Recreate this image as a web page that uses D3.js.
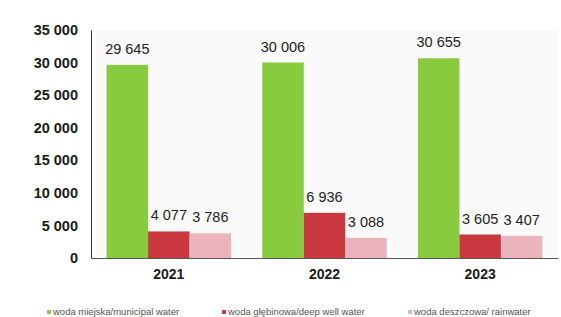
<!DOCTYPE html>
<html><head><meta charset="utf-8">
<script src="https://cdn.jsdelivr.net/npm/d3@7"></script>
<style>body{margin:0;background:#fff}svg{display:block}</style>
</head><body>
<svg id="c" width="561" height="317"></svg>
<script>
const years = ["2021", "2022", "2023"];
const seriesNames = ["woda miejska/municipal water", "woda głębinowa/deep well water", "woda deszczowa/ rainwater"];
const municipal = [29645, 30006, 30655];
const deepWell = [4077, 6936, 3605];
const rain = [3786, 3088, 3407];
const yTicks = [0, 5000, 10000, 15000, 20000, 25000, 30000, 35000];
const colors = ["#88cb3e", "#c8383e", "#ebb3bb"];

const series = [municipal, deepWell, rain];
const svg = d3.select("#c");
const fmt = v => d3.format(",")(v).replace(/,/g, " ");
const mLeft = 91, mRight = 558, mTop = 30, mBottom = 258;
const FONT = "Liberation Sans, Arial, sans-serif";

const x = d3.scaleBand().domain(years).range([mLeft, mRight]).paddingInner(0.2).paddingOuter(0.1);
const xs = d3.scaleBand().domain(d3.range(3)).range([0, x.bandwidth()]);
const y = d3.scaleLinear().domain([0, 35000]).range([mBottom, mTop]);

svg.append("rect").attr("x", mLeft).attr("y", mTop).attr("width", mRight - mLeft).attr("height", mBottom - mTop).attr("fill", "#fafafa");

years.forEach((yr, i) => {
  series.forEach((s, j) => {
    svg.append("rect")
      .attr("x", x(yr) + xs(j)).attr("y", y(s[i]))
      .attr("width", xs.bandwidth()).attr("height", y(0) - y(s[i]))
      .attr("fill", colors[j]);
    svg.append("text")
      .attr("x", x(yr) + xs(j) + xs.bandwidth() / 2).attr("y", y(s[i]) - 11)
      .attr("text-anchor", "middle").attr("font-family", FONT)
      .attr("font-size", 14.5).attr("fill", "#222").text(fmt(s[i]));
  });
});

// y axis
const ya = svg.append("g").attr("transform", `translate(${mLeft},0)`)
  .call(d3.axisLeft(y).tickValues(yTicks).tickSize(0).tickPadding(13).tickFormat(fmt));
ya.select(".domain").attr("stroke", "#333");
ya.selectAll("text").attr("font-family", FONT).attr("font-size", 14.5).attr("font-weight", "bold").attr("fill", "#1a1a1a");

// x axis
const xa = svg.append("g").attr("transform", `translate(0,${mBottom})`)
  .call(d3.axisBottom(x).tickSize(0).tickPadding(11));
xa.select(".domain").attr("stroke", "#555");
xa.selectAll("text").attr("font-family", FONT).attr("font-size", 14).attr("font-weight", "bold").attr("fill", "#1a1a1a");

// legend
const legX = [47, 222, 408];
seriesNames.forEach((n, j) => {
  const g = svg.append("g").attr("transform", `translate(${legX[j]},315)`);
  g.append("rect").attr("x", 0).attr("y", -5).attr("width", 4).attr("height", 4).attr("fill", colors[j]);
  g.append("text").attr("x", 6).attr("y", 0).attr("font-family", FONT)
    .attr("font-size", 9.5).attr("fill", "#555").text(n);
});
</script>
</body></html>
